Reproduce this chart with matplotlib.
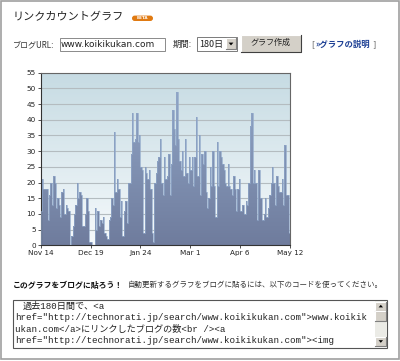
import matplotlib

matplotlib.use("Agg")  # headless
import matplotlib.pyplot as plt  # noqa: E402
import numpy as np  # noqa: E402
from matplotlib.colors import LinearSegmentedColormap  # noqa: E402
from matplotlib.patches import FancyBboxPatch, PathPatch, Polygon, Rectangle  # noqa: E402
from matplotlib.path import Path  # noqa: E402

JP = ["Noto Sans CJK JP", "DejaVu Sans"]
MONO = ["Liberation Mono", "Noto Sans CJK JP"]

# daily link counts, Nov 14 -> May 12 (180 days)
counts = [
    11, 21, 18, 18, 18, 8, 16, 20, 13, 22,
    20, 12, 15, 13, 9, 17, 18, 10, 13, 12,
    11, 0, 3, 6, 10, 13, 20, 15, 17, 16,
    6, 6, 10, 15, 11, 1, 1, 0, 0, 12,
    5, 11, 6, 8, 7, 9, 4, 3, 2, 8,
    9, 15, 13, 36, 17, 21, 18, 9, 14, 3,
    11, 14, 7, 20, 20, 29, 42, 33, 34, 42,
    33, 35, 25, 24, 4, 25, 23, 21, 24, 18,
    4, 1, 20, 23, 27, 28, 34, 20, 16, 28,
    21, 22, 29, 16, 26, 43, 37, 32, 49, 34,
    27, 24, 30, 22, 34, 23, 20, 28, 24, 28,
    19, 28, 41, 22, 35, 16, 29, 26, 30, 17,
    12, 15, 25, 19, 30, 19, 9, 33, 19, 30,
    28, 26, 24, 20, 19, 26, 19, 18, 16, 22,
    18, 11, 18, 21, 11, 13, 13, 10, 14, 13,
    20, 38, 42, 20, 24, 20, 8, 24, 15, 15,
    8, 10, 15, 9, 12, 16, 20, 25, 20, 13,
    22, 19, 17, 17, 21, 13, 32, 16, 16, 4,
]
yticks = list(range(0, 56, 5))
xtick_labels = ["Nov 14", "Dec 19", "Jan 24", "Mar 1", "Apr 6", "May 12"]

title = "リンクカウントグラフ"
url = "www.koikikukan.com"
period = "180日"
paste_head = "このグラフをブログに貼ろう！"
paste_note = "自動更新するグラフをブログに貼るには、以下のコードを使ってください。"
code_lines = [
    "過去180日間で、<a",
    'href="http://technorati.jp/search/www.koikikukan.com">www.koikik',
    "ukan.com</a>にリンクしたブログの数<br /><a",
    'href="http://technorati.jp/search/www.koikikukan.com"><img',
]

W, H = 400, 361
fig = plt.figure(figsize=(W / 100, H / 100), dpi=100)
page = fig.add_axes([0, 0, 1, 1])
page.set_xlim(0, W)
page.set_ylim(H, 0)
page.axis("off")


def px_box(x0, y0, x1, y1):
    return [x0 / W, 1 - y1 / H, (x1 - x0) / W, (y1 - y0) / H]


def bevel(x0, y0, x1, y1, light="white", dark="#808080"):
    page.plot([x0, x0, x1], [y1, y0, y0], color=light, lw=0.8)
    page.plot([x0, x1, x1], [y1, y1, y0], color=dark, lw=0.8)


# --- page frame + header ----------------------------------------------------
page.add_patch(Rectangle((0.5, 0.5), 398, 358, fc="white", ec="#a0a0a0", lw=1.2))
page.text(12.5, 17.5, title, fontsize=8, family=JP, va="center", color="#222222")
page.add_patch(FancyBboxPatch((132, 15.6), 21, 5.4,
                              boxstyle="round,pad=0,rounding_size=2.7",
                              fc="#e07a12", ec="none"))
page.text(142.5, 18.4, "BETA", fontsize=3, color="white", weight="bold",
          ha="center", va="center")

page.text(12.5, 44.5, "ブログURL:", fontsize=5.8, family=JP, va="center", color="#333333")
page.add_patch(Rectangle((59.5, 37.5), 105, 13, fc="white", ec="#8a8a8a", lw=0.7))
page.text(61, 44.3, url, fontsize=6.5, va="center", color="#222222")

page.text(173, 44.5, "期間:", fontsize=6, family=JP, va="center", color="#333333")
page.add_patch(Rectangle((196.5, 37), 40, 13.5, fc="white", ec="#7a7a7a", lw=0.7))
page.text(199, 44, period, fontsize=6.5, family=JP, va="center", color="#222222")
page.add_patch(Rectangle((226, 38.2), 9.8, 11.2, fc="#d4d0c8", ec="none"))
bevel(226, 38.2, 235.8, 49.4)
page.add_patch(Polygon([(228.6, 42.6), (233.4, 42.6), (231, 45.4)], fc="black", ec="none"))

page.add_patch(Rectangle((241, 34.5), 59.5, 17, fc="#d4d0c8", ec="none"))
bevel(241, 34.5, 300.5, 51.5, dark="#404040")
page.text(270.5, 42.8, "グラフ作成", fontsize=5.8, family=JP, ha="center", va="center",
          color="#222222")

page.text(311.5, 44.5, "[", fontsize=6, va="center", color="#777777")
page.text(315.5, 44.5, "»グラフの説明", fontsize=6, family=JP, weight="bold",
          va="center", color="#1c3f94")
page.text(372.5, 44.5, "]", fontsize=6, va="center", color="#777777")

# --- chart ------------------------------------------------------------------
n = len(counts)
days = np.arange(n)
ax = fig.add_axes(px_box(40.7, 72.7, 290, 245.3))

bg_cmap = LinearSegmentedColormap.from_list("bg", ["#f6fafc", "#c6dbe3"])
bar_cmap = LinearSegmentedColormap.from_list("bar", ["#6f7c9d", "#94aacb"])
grad = np.linspace(0, 1, 256).reshape(-1, 1)
ax.imshow(grad, extent=[0, n, 0, 55], origin="lower", aspect="auto", cmap=bg_cmap, zorder=0)

bars = ax.bar(days, counts, width=1.0, align="edge", color="none", lw=0, zorder=2)
bar_path = Path.make_compound_path(
    *[b.get_path().transformed(b.get_patch_transform()) for b in bars]
)
clip = PathPatch(bar_path, transform=ax.transData, fc="none", ec="none")
ax.add_patch(clip)
im = ax.imshow(grad, extent=[0, n, 0, 55], origin="lower", aspect="auto", cmap=bar_cmap,
               zorder=2)
im.set_clip_path(clip)
ax.stairs(counts, np.arange(n + 1), color="#8fa7c9", lw=0.5, zorder=3)

ax.set_xlim(0, n)
ax.set_ylim(0, 55)
ax.set_yticks(yticks)
ax.set_xticks(np.arange(0, n + 1, 36))
ax.set_xticklabels(xtick_labels)
ax.yaxis.grid(True, color="#b4bcc0", lw=0.8)
ax.set_axisbelow(True)
ax.tick_params(length=2, width=0.6, color="#333333", labelsize=5.2,
               labelcolor="#222222", pad=1.5)
for side in ("left", "bottom"):
    ax.spines[side].set_color("#333333")
for side in ("top", "right"):
    ax.spines[side].set_color("#666666")
for sp in ax.spines.values():
    sp.set_linewidth(0.8)

# --- embed code block -------------------------------------------------------
page.text(12.5, 285, paste_head, fontsize=5.7, family=JP, weight="bold",
          va="center", color="#111111")
page.text(128, 285, paste_note, fontsize=5.4, family=JP, va="center", color="#333333")

page.add_patch(Rectangle((12.5, 300), 374.5, 47.5, fc="white", ec="#555555", lw=0.8))
page.add_patch(Rectangle((375, 301), 11.5, 45.8, fc="#ebebe6", ec="none"))
for y0, y1 in ((301.5, 310.5), (336.5, 346)):
    page.add_patch(Rectangle((375.3, y0), 11, y1 - y0, fc="#d4d0c8", ec="none"))
    bevel(375.3, y0, 386.3, y1)
page.add_patch(Rectangle((375.3, 311), 11, 9.5, fc="#d4d0c8", ec="none"))
bevel(375.3, 311, 386.3, 320.5)
page.add_patch(Polygon([(378.6, 307.4), (383, 307.4), (380.8, 304.8)], fc="black", ec="none"))
page.add_patch(Polygon([(378.6, 340.2), (383, 340.2), (380.8, 342.8)], fc="black", ec="none"))

for i, line in enumerate(code_lines):
    x0 = 22.7 if i == 0 else 15
    page.text(x0, 306.7 + 11.2 * i, line, fontsize=6.6, family=MONO,
              va="center", color="#222222")

fig.savefig("out.png", dpi=100)
